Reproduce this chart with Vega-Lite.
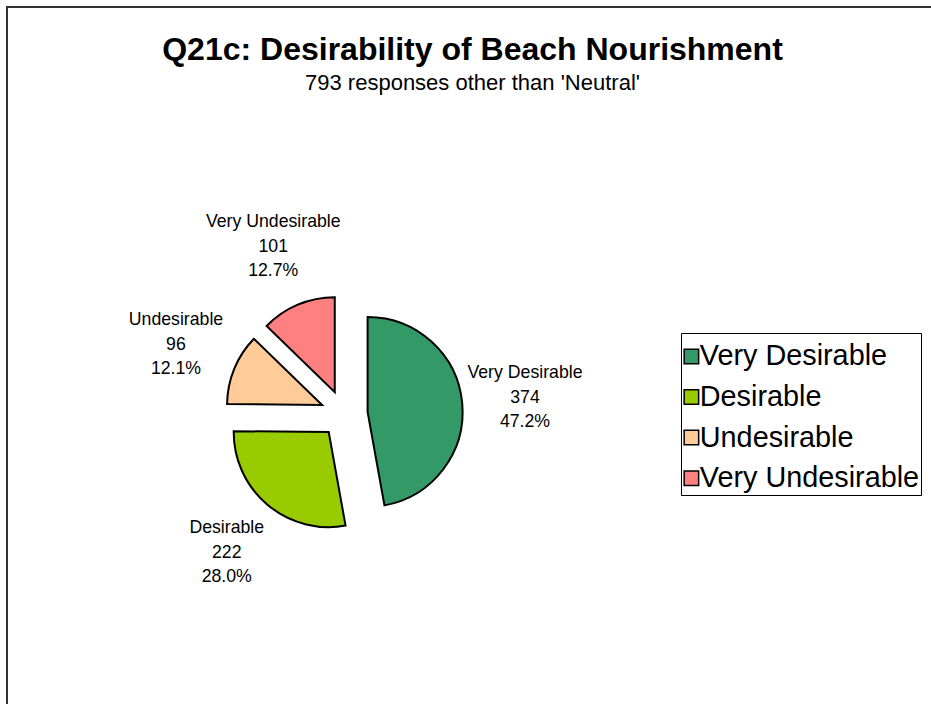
{
  "$schema": "https://vega.github.io/schema/vega-lite/v6.json",
  "width": 931,
  "height": 704,
  "padding": {"left": 7, "top": 7, "right": 0, "bottom": 0},
  "background": "white",
  "config": {"view": {"stroke": "#333333", "strokeWidth": 2}},
  "title": {
    "text": "Q21c: Desirability of Beach Nourishment",
    "subtitle": "793 responses other than 'Neutral'",
    "font": "Liberation Sans",
    "fontSize": 32,
    "fontWeight": "bold",
    "color": "black",
    "subtitleFont": "Liberation Sans",
    "subtitleFontSize": 22,
    "subtitleColor": "black",
    "subtitlePadding": 6,
    "anchor": "middle",
    "offset": -88
  },
  "data": {
    "values": [
      {"category": "Very Desirable", "count": 374},
      {"category": "Desirable", "count": 222},
      {"category": "Undesirable", "count": 96},
      {"category": "Very Undesirable", "count": 101}
    ]
  },
  "transform": [
    {"window": [{"op": "sum", "field": "count", "as": "cum"}, {"op": "row_number", "as": "idx"}], "frame": [null, 0]},
    {"joinaggregate": [{"op": "sum", "field": "count", "as": "total"}]},
    {"calculate": "2*PI*(datum.cum - datum.count/2)/datum.total", "as": "mid"},
    {"calculate": "sin(datum.mid)", "as": "ex"},
    {"calculate": "-cos(datum.mid)", "as": "ey"},
    {"calculate": "datum.category + '\\n' + datum.count + '\\n' + format(datum.count/datum.total, '.1%')", "as": "label"}
  ],
  "encoding": {
    "theta": {"field": "count", "type": "quantitative", "stack": true},
    "order": {"field": "idx", "type": "quantitative"},
    "x": {"field": "ex", "type": "quantitative", "scale": {"domain": [-1, 1], "range": [313.3, 360.7], "nice": false, "zero": false}, "axis": null},
    "y": {"field": "ey", "type": "quantitative", "scale": {"domain": [-1, 1], "range": [383.3, 430.7], "nice": false, "zero": false}, "axis": null}
  },
  "layer": [
    {
      "mark": {"type": "arc", "radius": 95, "stroke": "black", "strokeWidth": 2, "strokeJoin": "miter"},
      "encoding": {
        "color": {
          "field": "category",
          "type": "nominal",
          "sort": ["Very Desirable", "Desirable", "Undesirable", "Very Undesirable"],
          "scale": {
            "domain": ["Very Desirable", "Desirable", "Undesirable", "Very Undesirable"],
            "range": ["#339966", "#99CC00", "#FFCC99", "#FF8080"]
          },
          "legend": {
            "title": " ",
            "titleFontSize": 1,
            "titlePadding": 6.5,
            "orient": "none",
            "legendX": 674,
            "legendY": 326,
            "strokeColor": "black",
            "fillColor": "white",
            "padding": 1.5,
            "symbolType": "square",
            "symbolSize": 210,
            "symbolStrokeColor": "black",
            "symbolStrokeWidth": 1.5,
            "symbolOpacity": 1,
            "symbolOffset": -5.5,
            "labelFont": "Liberation Sans",
            "labelFontSize": 28.8,
            "labelColor": "black",
            "labelOffset": -6,
            "labelLimit": 400,
            "rowPadding": 10.6
          }
        }
      }
    },
    {
      "mark": {"type": "text", "radius": 158, "font": "Liberation Sans", "fontSize": 17.7, "lineBreak": "\n", "lineHeight": 24.5, "align": "center", "baseline": "middle", "dy": -24.5, "color": "black"},
      "encoding": {
        "detail": {"field": "category", "type": "nominal"},
        "text": {"field": "label", "type": "nominal"}
      }
    }
  ]
}
